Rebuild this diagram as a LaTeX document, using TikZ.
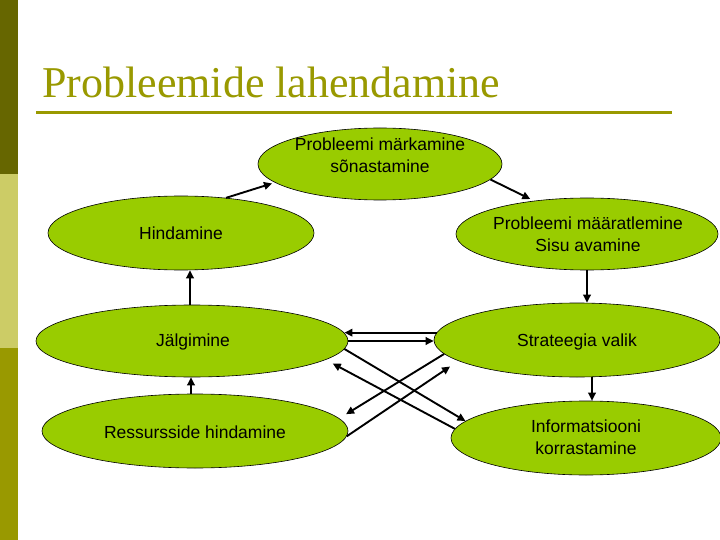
\documentclass[tikz,border=0pt]{standalone}
\usepackage{fontspec}
\setmainfont{Liberation Serif}
\newfontfamily\arialf{Liberation Sans}
\usetikzlibrary{shapes.geometric,arrows.meta}
\definecolor{barA}{HTML}{666600}
\definecolor{barB}{HTML}{CCCC66}
\definecolor{barC}{HTML}{999900}
\definecolor{titlecol}{HTML}{999900}
\definecolor{leaf}{HTML}{99CC00}
\begin{document}
\begin{tikzpicture}[x=1pt,y=-1pt,
  stage/.style={ellipse,draw=black,line width=0.6pt,fill=leaf,inner sep=0pt},
  lbl/.style={font=\arialf\fontsize{17.5}{22}\selectfont,align=center,text=black,inner sep=0pt},
  arr/.style={line width=1.9pt,-{Triangle[length=8pt,width=7.5pt]}}]
\useasboundingbox (0,0) rectangle (720,540);
\fill[white] (0,0) rectangle (720,540);
% side bar
\fill[barA] (0,0) rectangle (18,174);
\fill[barB] (0,174) rectangle (18,348);
\fill[barC] (0,348) rectangle (18,540);
% title
\node[anchor=base west,text=titlecol,font=\fontsize{44}{50}\selectfont,inner sep=0pt] (title) at (42,98) {Probleemide lahendamine};
\draw[titlecol,line width=3pt] (36,113) -- (672,113);
% stages
\node[stage,minimum width=244pt,minimum height=72pt] (T) at (380,164) {};
\node[lbl] (Tt) at (380,155) {Probleemi märkamine\\sõnastamine};
\node[stage,minimum width=266pt,minimum height=74pt] (H) at (181,233) {};
\node[lbl] (Ht) at (181,233) {Hindamine};
\node[stage,minimum width=312pt,minimum height=72pt] (J) at (192,341) {};
\node[lbl] (Jt) at (193,342) {Jälgimine};
\node[stage,minimum width=306pt,minimum height=74pt] (R) at (195,431) {};
\node[lbl] (Rt) at (195,432) {Ressursside hindamine};
\node[stage,minimum width=262pt,minimum height=72pt] (M) at (587,234) {};
\node[lbl] (Mt) at (588,234) {Probleemi määratlemine\\Sisu avamine};
\node[stage,minimum width=286pt,minimum height=74pt] (S) at (577,340) {};
\node[lbl] (St) at (577,342) {Strateegia valik};
\node[stage,minimum width=270pt,minimum height=74pt] (I) at (586,438) {};
\node[lbl] (It) at (586,437) {Informatsiooni\\korrastamine};
% connectors
\draw[arr,shorten >=3pt] (H.38) -- (T.190);
\draw[arr,shorten >=4pt] (T.-8) -- (M.148);
\draw[arr] (M.south -| 587,0) -- (S.north -| 587,0);
\draw[arr] ([xshift=6pt]I.north |- S.south) -- ([xshift=6pt]I.north);
\draw[arr] ([xshift=-4pt]R.north) -- ([xshift=-4pt]R.north |- J.south);
\draw[arr] ([xshift=-2pt]J.north) -- ([xshift=-2pt]J.north |- H.south);
\draw[arr] (S.177) -- (J.3 |- S.177);
\draw[arr] (J.east) -- (J.east -| S.west);
\draw[arr] (J.-3) -- (I.172);
\draw[arr,shorten >=8pt] (I.176) -- (J.-8);
\draw[arr,shorten >=8pt] (S.186) -- (R.5);
\draw[arr,shorten >=10pt] (R.-2) -- (S.190);
\end{tikzpicture}
\end{document}
